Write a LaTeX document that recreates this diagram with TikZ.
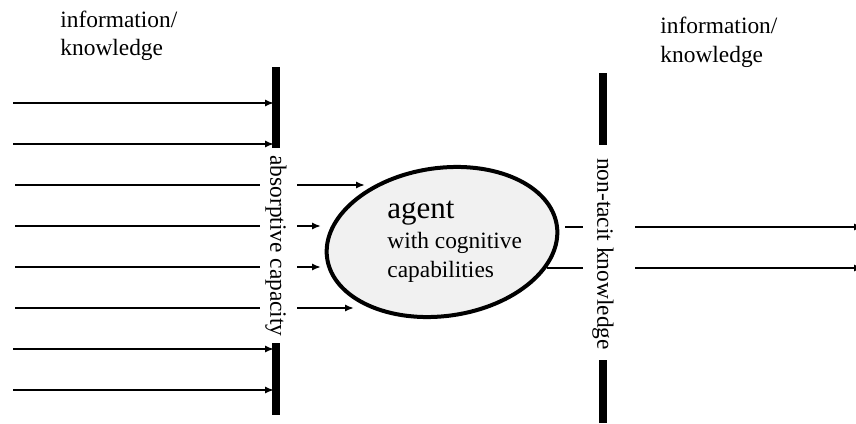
\documentclass[tikz,border=0pt]{standalone}
\usepackage{fontspec}
\setmainfont{Liberation Serif}
\usetikzlibrary{arrows,arrows.meta,positioning}
\tikzset{
 >={Latex[length=4.5pt,width=3.6pt]},
 flow/.style={line width=0.9pt},
 gate/.style={line width=3.6pt},
 lbl/.style={inner sep=0pt, anchor=base west, font=\fontsize{11.7}{14}\selectfont}
}

\begin{document}
\begin{tikzpicture}[x=0.5pt,y=-0.5pt]
\useasboundingbox (0,0) rectangle (856,423);

% information coming in / going out
\path (60,27) node[lbl,name=infoL] {information/};
\path (60,55) node[lbl,name=knowL] {knowledge};
\path (660,33) node[lbl,name=infoR] {information/};
\path (660,62) node[lbl,name=knowR] {knowledge};

% the two barriers
\path (276,67) coordinate[name=absT1];
\path (276,148) coordinate[name=absT2];
\path (276,343) coordinate[name=absB1];
\path (276,415) coordinate[name=absB2];
\draw[gate] (absT1) -- (absT2);
\draw[gate] (absB1) -- (absB2);
\path (276,246) node[rotate=-90,inner sep=0pt,font=\fontsize{11.7}{14}\selectfont,name=absorb] {absorptive capacity};

\path (603,73) coordinate[name=ntkT1];
\path (603,145) coordinate[name=ntkT2];
\path (603,360) coordinate[name=ntkB1];
\path (603,423) coordinate[name=ntkB2];
\draw[gate] (ntkT1) -- (ntkT2);
\draw[gate] (ntkB1) -- (ntkB2);
\path (603,254) node[rotate=-90,inner sep=0pt,font=\fontsize{11.7}{14}\selectfont,name=nontacit] {non-tacit knowledge};

% agent
\path (442,242) coordinate[name=ag];
\draw[line width=2pt,fill=gray!11,rotate around={8:(ag)}] (ag) ellipse [x radius=58pt,y radius=37pt];
\path (387,218) node[anchor=base west,inner sep=0pt,font=\fontsize{15.5}{18}\selectfont,name=agt] {agent};
\path (387,248) node[lbl,name=cog] {with cognitive};
\path (387,277) node[lbl,name=cap] {capabilities};

% blocked at the barrier
\path (13,103) coordinate[name=s1];  \path (274,103) coordinate[name=e1];
\path (13,144) coordinate[name=s2];  \path (274,144) coordinate[name=e2];
\path (13,349) coordinate[name=s7];  \path (274,349) coordinate[name=e7];
\path (13,390) coordinate[name=s8];  \path (274,390) coordinate[name=e8];
\path[->,flow] (s1) edge (e1);
\path[->,flow] (s2) edge (e2);
\path[->,flow] (s7) edge (e7);
\path[->,flow] (s8) edge (e8);

% absorbed
\path (15,185) coordinate[name=s3];  \path (260,185) coordinate[name=m3];
\path (15,226) coordinate[name=s4];  \path (260,226) coordinate[name=m4];
\path (15,267) coordinate[name=s5];  \path (260,267) coordinate[name=m5];
\path (15,308) coordinate[name=s6];  \path (260,308) coordinate[name=m6];
\draw[flow] (s3) -- (m3);
\draw[flow] (s4) -- (m4);
\draw[flow] (s5) -- (m5);
\draw[flow] (s6) -- (m6);

\path (297,185) coordinate[name=i3];  \path (365,185) coordinate[name=a3];
\path (297,226) coordinate[name=i4];  \path (321,226) coordinate[name=a4];
\path (297,267) coordinate[name=i5];  \path (321,267) coordinate[name=a5];
\path (297,308) coordinate[name=i6];  \path (354,308) coordinate[name=a6];
\path[->,flow] (i3) edge (a3);
\path[->,flow] (i4) edge (a4);
\path[->,flow] (i5) edge (a5);
\path[->,flow] (i6) edge (a6);

% passed on
\path (565,227) coordinate[name=o1];  \path (583,227) coordinate[name=p1];
\path (547,268) coordinate[name=o2];  \path (583,268) coordinate[name=p2];
\draw[flow] (o1) -- (p1);
\draw[flow] (o2) -- (p2);
\path (635,227) coordinate[name=q1];  \path (863,227) coordinate[name=r1];
\path (635,268) coordinate[name=q2];  \path (863,268) coordinate[name=r2];
\path[->,flow] (q1) edge (r1);
\path[->,flow] (q2) edge (r2);
\end{tikzpicture}
\end{document}
